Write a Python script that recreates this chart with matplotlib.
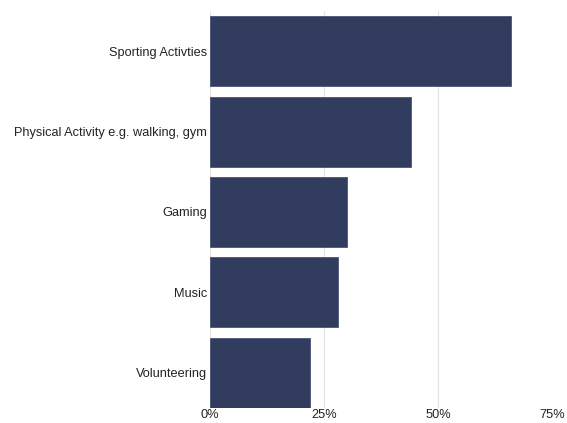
import matplotlib.pyplot as plt
from matplotlib.ticker import PercentFormatter

# Survey data
activities = ['Sporting Activties', 'Physical Activity e.g. walking, gym',
              'Gaming', 'Music', 'Volunteering']
shares = [66, 44, 30, 28, 22]

plt.rcParams['font.family'] = ['Liberation Sans', 'DejaVu Sans']

fig = plt.figure(figsize=(5.67, 4.23), dpi=100)
ax = fig.add_axes([210 / 567, 1 - 408 / 423, 342 / 567, 397 / 423])

ax.barh(activities, shares, height=0.87, color='#323c5e', edgecolor='#4a5375',
        linewidth=0.6, zorder=3)

ax.set_xlim(0, 75)
ax.set_ylim(4.44, -0.5)
ax.set_xticks([0, 25, 50, 75])
ax.xaxis.set_major_formatter(PercentFormatter(decimals=0))
ax.grid(axis='x', color='#e4e4e4', linewidth=0.8, zorder=0)

for s in ax.spines.values():
    s.set_visible(False)
ax.tick_params(axis='both', length=0, labelsize=9.2, colors='#222222')
ax.tick_params(axis='x', pad=1)
ax.tick_params(axis='y', pad=2)

fig.savefig('out.png', dpi=100)
